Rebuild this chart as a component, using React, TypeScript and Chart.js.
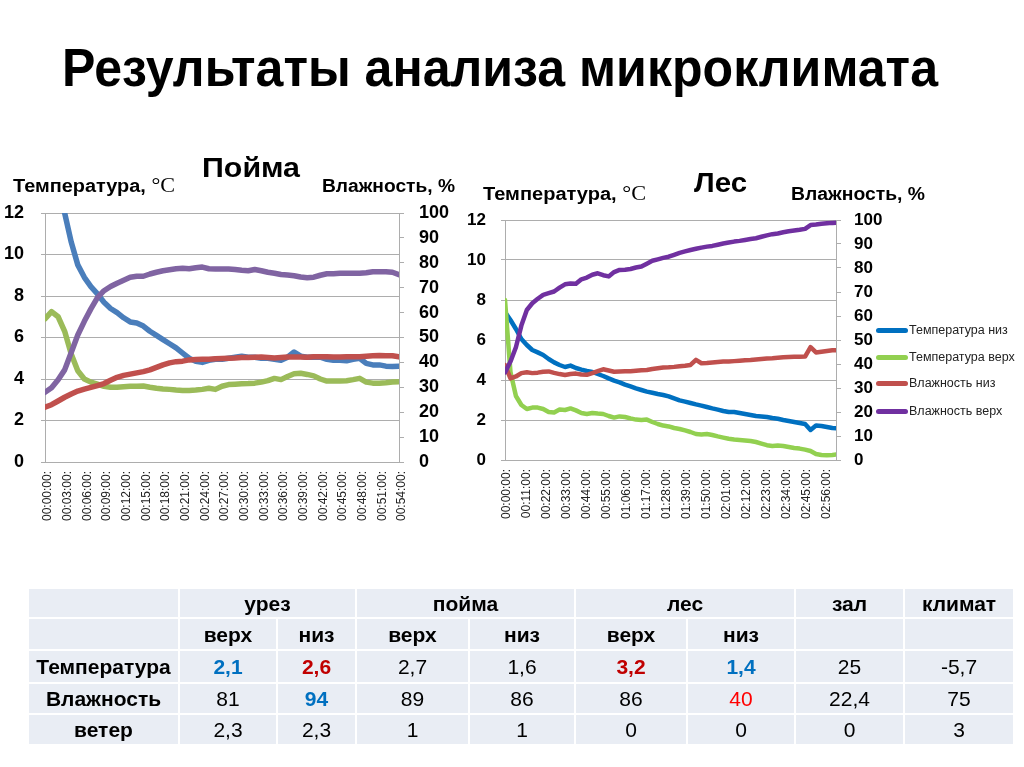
import React, { useEffect, useRef } from "react";
import { Chart, registerables } from "chart.js";

Chart.register(...registerables);

const FONT = "'Liberation Sans', Arial, sans-serif";
const GRID = "#ADADAD";

// ---------- Пойма (sampled every 1 minute, 00:00 .. 00:54) ----------
const POIMA_STEP_MIN = 1;
const poimaTickMinutes = [0, 3, 6, 9, 12, 15, 18, 21, 24, 27, 30, 33, 36, 39, 42, 45, 48, 51, 54];
const poimaTickLabels = [
  "00:00:00:", "00:03:00:", "00:06:00:", "00:09:00:", "00:12:00:", "00:15:00:", "00:18:00:",
  "00:21:00:", "00:24:00:", "00:27:00:", "00:30:00:", "00:33:00:", "00:36:00:", "00:39:00:",
  "00:42:00:", "00:45:00:", "00:48:00:", "00:51:00:", "00:54:00:",
];
const poimaTempLow = [16.0, 14.6, 13.3, 12.0, 10.6, 9.5, 8.9, 8.45, 8.1, 7.7, 7.4, 7.2, 6.95, 6.75, 6.7, 6.55, 6.3, 6.1, 5.9, 5.7, 5.5, 5.25, 5.0, 4.85, 4.8, 4.9, 4.95, 4.95, 5.0, 5.05, 5.1, 5.05, 5.05, 5.0, 5.0, 4.95, 4.9, 5.05, 5.3, 5.1, 5.05, 5.05, 5.05, 4.95, 4.9, 4.9, 4.88, 4.95, 5.0, 4.75, 4.68, 4.68, 4.62, 4.6, 4.62];
const poimaTempHigh = [6.9, 7.25, 7.0, 6.3, 5.2, 4.4, 4.0, 3.85, 3.75, 3.65, 3.6, 3.6, 3.63, 3.65, 3.65, 3.66, 3.6, 3.55, 3.52, 3.5, 3.47, 3.45, 3.45, 3.47, 3.5, 3.55, 3.5, 3.65, 3.73, 3.75, 3.77, 3.78, 3.8, 3.85, 3.92, 4.03, 3.97, 4.12, 4.25, 4.28, 4.22, 4.15, 4.0, 3.9, 3.9, 3.9, 3.92, 3.97, 4.03, 3.85, 3.8, 3.8, 3.82, 3.85, 3.87];
const poimaHumLow = [22, 23, 24.5, 26, 27.3, 28.5, 29.3, 30, 30.7, 31.5, 32.8, 34, 34.8, 35.3, 35.8, 36.3, 37, 38, 39, 39.8, 40.3, 40.5, 41, 41.2, 41.3, 41.3, 41.5, 41.6, 41.7, 41.8, 42, 42, 42.1, 42.2, 42, 41.8, 42, 42.2, 42.2, 42.2, 42.1, 42.3, 42.3, 42.3, 42.2, 42.2, 42.3, 42.3, 42.3, 42.5, 42.7, 42.8, 42.7, 42.7, 42.2];
const poimaHumHigh = [28, 29.8, 33, 37, 44, 51, 56.5, 61.5, 66, 68.8, 70.5, 71.8, 73, 74.2, 74.6, 74.6, 75.5, 76.2, 76.8, 77.2, 77.6, 77.8, 77.6, 78, 78.3, 77.6, 77.5, 77.5, 77.5, 77.3, 77, 76.8, 77.3, 76.8, 76.2, 75.8, 75.3, 75.1, 74.8, 74.3, 74, 74.2, 75, 75.6, 75.6, 75.8, 75.8, 75.8, 75.8, 76, 76.4, 76.4, 76.4, 76.2, 75.2];

// ---------- Лес (sampled every 3 minutes, 00:00 .. 03:03) ----------
const LES_STEP_MIN = 3;
const lesTickMinutes = [0, 11, 22, 33, 44, 55, 66, 77, 88, 99, 110, 121, 132, 143, 154, 165, 176];
const lesTickLabels = [
  "00:00:00:", "00:11:00:", "00:22:00:", "00:33:00:", "00:44:00:", "00:55:00:", "01:06:00:",
  "01:17:00:", "01:28:00:", "01:39:00:", "01:50:00:", "02:01:00:", "02:12:00:", "02:23:00:",
  "02:34:00:", "02:45:00:", "02:56:00:",
];
const lesTempLow = [7.4, 7.0, 6.55, 6.05, 5.75, 5.5, 5.38, 5.25, 5.05, 4.88, 4.75, 4.65, 4.72, 4.6, 4.52, 4.45, 4.4, 4.3, 4.2, 4.08, 3.97, 3.88, 3.77, 3.68, 3.58, 3.5, 3.42, 3.36, 3.3, 3.25, 3.18, 3.08, 2.98, 2.92, 2.85, 2.78, 2.72, 2.65, 2.58, 2.52, 2.45, 2.4, 2.4, 2.35, 2.3, 2.25, 2.2, 2.18, 2.15, 2.1, 2.06, 2.0, 1.95, 1.9, 1.85, 1.8, 1.5, 1.72, 1.7, 1.65, 1.6, 1.58];
const lesTempHigh = [8.0, 4.4, 3.2, 2.75, 2.55, 2.62, 2.62, 2.55, 2.4, 2.38, 2.52, 2.5, 2.58, 2.48, 2.35, 2.3, 2.35, 2.32, 2.3, 2.2, 2.12, 2.18, 2.15, 2.08, 2.02, 2.0, 2.02, 1.9, 1.8, 1.72, 1.68, 1.6, 1.55, 1.48, 1.4, 1.3, 1.28, 1.3, 1.25, 1.18, 1.12, 1.06, 1.02, 1.0, 0.98, 0.95, 0.9, 0.82, 0.74, 0.7, 0.72, 0.7, 0.65, 0.6, 0.57, 0.52, 0.45, 0.3, 0.25, 0.24, 0.25, 0.28];
const lesHumLow = [39.5, 34, 34.8, 36.2, 36.6, 36.2, 36.4, 36.8, 36.9, 36.3, 35.8, 35.4, 35.8, 36, 35.6, 35.5, 36.2, 37, 37.8, 37.3, 36.8, 36.9, 37, 37, 37.2, 37.4, 37.5, 37.9, 38.2, 38.5, 38.6, 38.8, 39.1, 39.3, 39.6, 41.7, 40.3, 40.4, 40.6, 40.8, 41, 41, 41.2, 41.4, 41.6, 41.7, 41.9, 42.1, 42.3, 42.4, 42.6, 42.8, 42.9, 43, 43, 43.1, 47, 44.8, 45.1, 45.4, 45.7, 45.8];
const lesHumHigh = [36.5, 41, 47, 56, 62.5, 65.3, 67.2, 68.8, 69.5, 70.2, 71.8, 73.2, 73.5, 73.4, 75.3, 76, 77.2, 77.8, 77, 76.5, 78.3, 79.2, 79.3, 79.6, 80.2, 80.6, 81.8, 83, 83.6, 84.2, 84.7, 85.5, 86.3, 86.9, 87.5, 88, 88.5, 88.9, 89.2, 89.7, 90.2, 90.6, 91, 91.3, 91.7, 92.1, 92.4, 93, 93.6, 94.1, 94.4, 94.9, 95.3, 95.6, 95.9, 96.3, 97.9, 98.1, 98.4, 98.6, 98.8, 98.9];

const seriesNames = ["Температура низ", "Температура верх", "Влажность низ", "Влажность верх"];
const poimaColors = ["#4A7EBB", "#9BBB59", "#C0504D", "#8064A2"];
const lesColors = ["#0070C0", "#92D050", "#C0504D", "#7030A0"];
const seriesAxes = ["y", "y", "y1", "y1"];

// ---------- Table ----------
const tableGroups = ["урез", "пойма", "лес", "зал", "климат"];
const tableGroupSpans = [2, 2, 2, 1, 1];
const tableSubs = ["верх", "низ", "верх", "низ", "верх", "низ", "", ""];
const tableRowNames = ["Температура", "Влажность", "ветер"];
const tempValues = ["2,1", "2,6", "2,7", "1,6", "3,2", "1,4", "25", "-5,7"];
const humValues = ["81", "94", "89", "86", "86", "40", "22,4", "75"];
const windValues = ["2,3", "2,3", "1", "1", "0", "0", "0", "3"];
const tempMarks = ["b", "r", "", "", "r", "b", "", ""];
const humMarks = ["", "b", "", "", "", "R", "", ""];
const windMarks = ["", "", "", "", "", "", "", ""];

type ChartProps = {
  left: number; top: number; width: number; height: number;
  areaLeft: number; areaTop: number; areaRight: number; areaBottom: number;
  xMax: number; step: number; tickMinutes: number[]; tickLabels: string[];
  values: number[][]; colors: string[]; lineWidth: number; yFontSize: number;
  leftPad: number; rightPad: number; labelOffset: number;
};

function DualAxisChart(p: ChartProps) {
  const ref = useRef<HTMLCanvasElement | null>(null);
  useEffect(() => {
    if (!ref.current) return;
    const n = p.values.length;
    const fixVertical = (s: any, w: number) => {
      s.width = w;
      s.paddingTop = 0;
      s.paddingBottom = 0;
    };
    const chart = new Chart(ref.current, {
      type: "line",
      data: {
        datasets: p.values.map((vals, k) => ({
          label: seriesNames[k],
          data: vals.map((v, i) => ({ x: i * p.step, y: v })),
          yAxisID: seriesAxes[k],
          borderColor: p.colors[k],
          backgroundColor: p.colors[k],
          borderWidth: p.lineWidth,
          pointRadius: 0,
          tension: 0,
          fill: false,
          borderJoinStyle: "round",
          borderCapStyle: "round",
          order: n - k,
        })),
      },
      options: {
        responsive: false,
        animation: false,
        events: [],
        layout: { padding: { top: p.areaTop, left: 0, right: 0, bottom: 0 } },
        plugins: { legend: { display: false }, tooltip: { enabled: false }, title: { display: false } },
        scales: {
          x: {
            type: "linear",
            min: 0,
            max: p.xMax,
            afterBuildTicks: (s: any) => { s.ticks = p.tickMinutes.map((v) => ({ value: v })); },
            afterFit: (s: any) => { s.height = p.height - p.areaBottom; },
            ticks: {
              autoSkip: false,
              maxRotation: 90,
              minRotation: 90,
              padding: 9,
              labelOffset: p.labelOffset,
              color: "#222",
              font: { family: FONT, size: 12 },
              callback: (_v: any, i: number) => p.tickLabels[i],
            },
            grid: { display: false, drawTicks: false },
            border: { display: true, color: GRID, width: 1 },
          },
          y: {
            type: "linear",
            position: "left",
            min: 0,
            max: 12,
            afterFit: (s: any) => fixVertical(s, p.areaLeft),
            ticks: { stepSize: 2, autoSkip: false, padding: p.leftPad, color: "#000", font: { family: FONT, size: p.yFontSize, weight: "bold" } },
            grid: { color: GRID, lineWidth: 1, drawTicks: true, tickLength: 4 },
            border: { display: true, color: GRID, width: 1 },
          },
          y1: {
            type: "linear",
            position: "right",
            min: 0,
            max: 100,
            afterFit: (s: any) => fixVertical(s, p.width - p.areaRight),
            ticks: { stepSize: 10, autoSkip: false, padding: p.rightPad, color: "#000", font: { family: FONT, size: p.yFontSize, weight: "bold" } },
            grid: { drawOnChartArea: false, color: GRID, drawTicks: true, tickLength: 5 },
            border: { display: true, color: GRID, width: 1 },
          },
        },
      } as any,
    });
    return () => chart.destroy();
  }, []);
  return (
    <canvas
      ref={ref}
      width={p.width}
      height={p.height}
      style={{ position: "absolute", left: p.left, top: p.top, width: p.width, height: p.height }}
    />
  );
}

function cellStyle(mark: string): React.CSSProperties {
  if (mark === "b") return { color: "#0070C0", fontWeight: "bold" };
  if (mark === "r") return { color: "#C00000", fontWeight: "bold" };
  if (mark === "R") return { color: "#FF0000" };
  return { color: "#000" };
}

const colWidths = [151, 98, 79, 113, 106, 112, 108, 109, 110];
const rowHeights = [30, 32, 33, 31, 31];

function DataTable() {
  const td: React.CSSProperties = {
    background: "#E9EDF4",
    border: "2px solid #fff",
    textAlign: "center",
    verticalAlign: "middle",
    padding: 0,
    fontFamily: FONT,
    fontSize: 21,
    lineHeight: "1",
    whiteSpace: "nowrap",
  };
  const rows = [tempValues, humValues, windValues];
  const marks = [tempMarks, humMarks, windMarks];
  return (
    <table
      style={{
        position: "absolute",
        left: 27,
        top: 587,
        width: 986,
        borderCollapse: "collapse",
        tableLayout: "fixed",
      }}
    >
      <colgroup>
        {colWidths.map((w, i) => <col key={i} style={{ width: w }} />)}
      </colgroup>
      <tbody>
        <tr style={{ height: rowHeights[0] }}>
          <td style={td}></td>
          {tableGroups.map((g, i) => (
            <td key={i} colSpan={tableGroupSpans[i]} style={{ ...td, fontWeight: "bold" }}>{g}</td>
          ))}
        </tr>
        <tr style={{ height: rowHeights[1] }}>
          <td style={td}></td>
          {tableSubs.map((s, i) => (
            <td key={i} style={{ ...td, fontWeight: "bold" }}>{s}</td>
          ))}
        </tr>
        {rows.map((vals, r) => (
          <tr key={r} style={{ height: rowHeights[r + 2] }}>
            <td style={{ ...td, fontWeight: "bold" }}>{tableRowNames[r]}</td>
            {vals.map((v, i) => (
              <td key={i} style={{ ...td, ...cellStyle(marks[r][i]) }}>{v}</td>
            ))}
          </tr>
        ))}
      </tbody>
    </table>
  );
}

function Legend() {
  const centers = [330, 357, 383, 411];
  return (
    <>
      {seriesNames.map((name, i) => (
        <div key={i} style={{ position: "absolute", left: 876, top: centers[i] - 10, height: 20, display: "flex", alignItems: "center" }}>
          <div style={{ width: 32, height: 5, borderRadius: 3, background: lesColors[i] }} />
          <span style={{ fontFamily: FONT, fontSize: 12.5, color: "#222", marginLeft: 1 }}>{name}</span>
        </div>
      ))}
    </>
  );
}

function Texts() {
  const bold = { fontFamily: FONT, fontWeight: 700, fill: "#000" } as any;
  const serif = { fontFamily: "'Liberation Serif', 'Times New Roman', serif", fontWeight: 400 } as any;
  return (
    <svg width={1024} height={767} style={{ position: "absolute", left: 0, top: 0, pointerEvents: "none" }}>
      <text x={62} y={86} fontSize={54} textLength={876} lengthAdjust="spacingAndGlyphs" style={bold}>
        Результаты анализа микроклимата
      </text>
      <text x={202} y={177} fontSize={28} textLength={98} lengthAdjust="spacingAndGlyphs" style={bold}>Пойма</text>
      <text x={13} y={192} fontSize={18} textLength={162} lengthAdjust="spacingAndGlyphs" style={bold}>
        Температура, <tspan style={serif} fontSize={20}>°C</tspan>
      </text>
      <text x={322} y={192} fontSize={18} textLength={133} lengthAdjust="spacingAndGlyphs" style={bold}>Влажность, %</text>
      <text x={694} y={192} fontSize={28} textLength={53} lengthAdjust="spacingAndGlyphs" style={bold}>Лес</text>
      <text x={483} y={200} fontSize={18} textLength={163} lengthAdjust="spacingAndGlyphs" style={bold}>
        Температура, <tspan style={serif} fontSize={20}>°C</tspan>
      </text>
      <text x={791} y={200} fontSize={18} textLength={134} lengthAdjust="spacingAndGlyphs" style={bold}>Влажность, %</text>
    </svg>
  );
}

export default function App() {
  return (
    <div style={{ position: "absolute", left: 0, top: 0, width: 1024, height: 767, background: "#fff", overflow: "hidden" }}>
      <DualAxisChart
        left={0} top={200} width={470} height={340}
        areaLeft={45} areaTop={13} areaRight={399} areaBottom={262}
        xMax={54} step={POIMA_STEP_MIN}
        tickMinutes={poimaTickMinutes} tickLabels={poimaTickLabels}
        values={[poimaTempLow, poimaTempHigh, poimaHumLow, poimaHumHigh]}
        colors={poimaColors} lineWidth={5.5} yFontSize={18}
        leftPad={17} rightPad={15} labelOffset={3}
      />
      <DualAxisChart
        left={460} top={200} width={430} height={340}
        areaLeft={45} areaTop={20} areaRight={376} areaBottom={260}
        xMax={182} step={LES_STEP_MIN}
        tickMinutes={lesTickMinutes} tickLabels={lesTickLabels}
        values={[lesTempLow, lesTempHigh, lesHumLow, lesHumHigh]}
        colors={lesColors} lineWidth={4.5} yFontSize={17}
        leftPad={15} rightPad={13} labelOffset={2}
      />
      <Legend />
      <Texts />
      <DataTable />
    </div>
  );
}
